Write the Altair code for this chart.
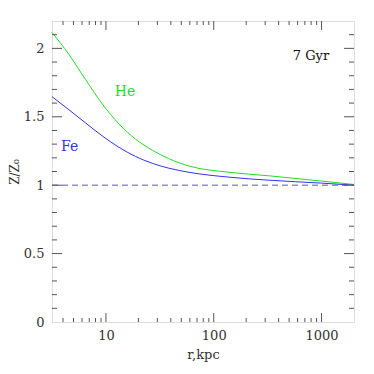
import altair as alt
import pandas as pd

# --- data ---
he_r = [3.16, 4.54, 6.47, 9.25, 13.2, 18.8, 26.9, 38.0, 60.3, 141.0, 331.0, 1000.0, 2000.0]
he_z = [2.117, 1.955, 1.772, 1.594, 1.448, 1.337, 1.256, 1.195, 1.138, 1.094, 1.068, 1.03, 1.005]
fe_r = [3.16, 4.54, 6.47, 9.25, 13.2, 18.8, 26.9, 38.0, 60.3, 141.0, 331.0, 1000.0, 2000.0]
fe_z = [1.647, 1.551, 1.455, 1.36, 1.277, 1.21, 1.16, 1.125, 1.093, 1.058, 1.036, 1.015, 1.0]
ref_r = [3.16, 2000.0]
ref_z = [1.0, 1.0]

x_major = [10, 100, 1000]
x_minor = [4, 5, 6, 7, 8, 9, 20, 30, 40, 50, 60, 70, 80, 90,
           200, 300, 400, 500, 600, 700, 800, 900]
y_major = [0.5, 1.0, 1.5, 2.0]
y_minor = [0.1, 0.2, 0.3, 0.4, 0.6, 0.7, 0.8, 0.9, 1.1, 1.2, 1.3, 1.4,
           1.6, 1.7, 1.8, 1.9, 2.1]
x_labels = [10, 100, 1000]
y_labels = [0, 0.5, 1, 1.5, 2]

labels_txt = ["He", "Fe"]
labels_r = [15.0, 4.6]
labels_z = [1.68, 1.28]
labels_col = ["#22dd22", "#3333dd"]

W, H = 302, 301
FONT = "DejaVu Serif"
AX = "#555555"

xs = alt.Scale(type="log", domain=[3.16, 2000], nice=False)
ys = alt.Scale(domain=[0, 2.2], nice=False, zero=False)

he = pd.DataFrame({"r": he_r, "z": he_z})
fe = pd.DataFrame({"r": fe_r, "z": fe_z})
ref = pd.DataFrame({"r": ref_r, "z": ref_z})

xaxis = alt.Axis(values=x_labels, format="d", ticks=False, domain=False, grid=False,
                 labelFont=FONT, labelFontSize=13, labelColor="#333333", labelPadding=7,
                 title="r,kpc", titleFont=FONT, titleFontSize=13, titleFontWeight="normal",
                 titleColor="#333333", titlePadding=6)
yaxis = alt.Axis(values=y_labels, ticks=False, domain=False, grid=False,
                 labelFont=FONT, labelFontSize=13, labelColor="#333333", labelPadding=8,
                 labelExpr="datum.value == 0 ? '0' : format(datum.value, '.2~f')",
                 title="Z/Z₀", titleFont=FONT, titleFontSize=12, titleFontWeight="normal",
                 titleColor="#333333", titlePadding=2)

base_line = alt.Chart(he).mark_line(color="#22dd22", strokeWidth=1, interpolate="monotone").encode(
    x=alt.X("r:Q", scale=xs, axis=xaxis),
    y=alt.Y("z:Q", scale=ys, axis=yaxis),
)
fe_line = alt.Chart(fe).mark_line(color="#3333ee", strokeWidth=1, interpolate="monotone").encode(
    x=alt.X("r:Q", scale=xs), y=alt.Y("z:Q", scale=ys))
ref_line = alt.Chart(ref).mark_line(color="#5555dd", strokeWidth=1, strokeDash=[6, 4]).encode(
    x=alt.X("r:Q", scale=xs), y=alt.Y("z:Q", scale=ys))

def xticks(vals, length):
    d = pd.DataFrame({"v": vals})
    bot = alt.Chart(d).mark_rule(color=AX, strokeWidth=1).encode(
        x=alt.X("v:Q", scale=xs), y=alt.value(H), y2=alt.value(H - length))
    top = alt.Chart(d).mark_rule(color=AX, strokeWidth=1).encode(
        x=alt.X("v:Q", scale=xs), y=alt.value(0), y2=alt.value(length))
    return bot + top

def yticks(vals, length):
    d = pd.DataFrame({"v": vals})
    left = alt.Chart(d).mark_rule(color=AX, strokeWidth=1).encode(
        y=alt.Y("v:Q", scale=ys), x=alt.value(0), x2=alt.value(length))
    right = alt.Chart(d).mark_rule(color=AX, strokeWidth=1).encode(
        y=alt.Y("v:Q", scale=ys), x=alt.value(W), x2=alt.value(W - length))
    return left + right

lab = pd.DataFrame({"t": labels_txt, "r": labels_r, "z": labels_z, "c": labels_col})
labels = alt.Chart(lab).mark_text(font=FONT, fontSize=14, align="center", baseline="middle").encode(
    x=alt.X("r:Q", scale=xs), y=alt.Y("z:Q", scale=ys), text="t:N",
    color=alt.Color("c:N", scale=None))

gyr = alt.Chart(pd.DataFrame({"t": ["7 Gyr"]})).mark_text(
    font=FONT, fontSize=13, align="center", baseline="middle", color="#111111").encode(
    x=alt.value(259), y=alt.value(35), text="t:N")

chart = alt.layer(
    base_line, fe_line, ref_line,
    xticks(x_major, 9), xticks(x_minor, 4),
    yticks(y_major, 10), yticks(y_minor, 5),
    labels, gyr,
).properties(
    width=W, height=H,
    autosize=alt.AutoSizeParams(type="none"),
    padding={"left": 44, "top": 13, "right": 12, "bottom": 44},
).configure_view(stroke=AX, strokeWidth=1.5).configure(background="white")

chart.save("out.html", embed_options={"renderer": "svg", "actions": False})
